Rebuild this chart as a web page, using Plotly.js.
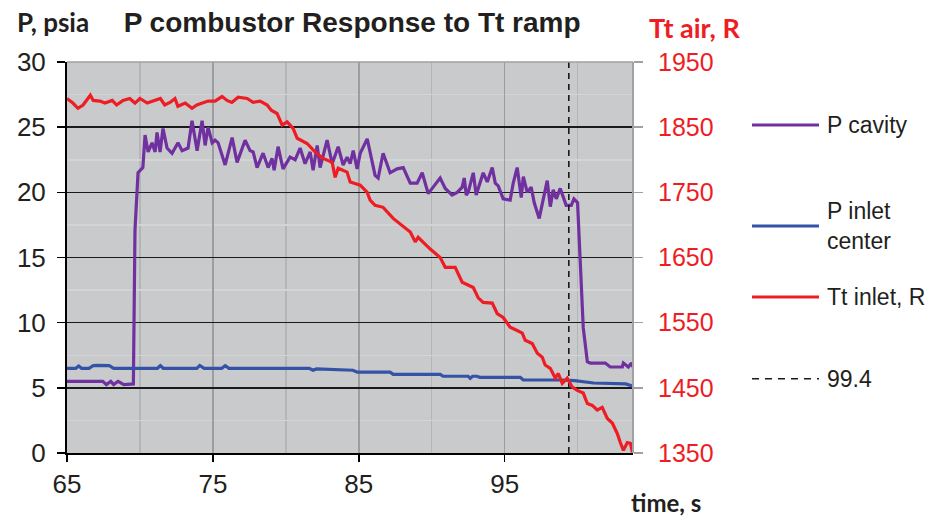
<!DOCTYPE html>
<html><head><meta charset="utf-8">
<script src="https://cdn.plot.ly/plotly-3.0.1.min.js"></script>
<style>html,body{margin:0;padding:0;background:#fff;} #chart{width:939px;height:518px;}</style>
</head><body><div id="chart"></div>
<script>
// P cavity (psia)
const cavityTime = [65.0,67.45,67.7,68.0,68.2,68.5,68.9,69.4,69.55,69.66,69.87,70.2,70.35,70.56,70.83,71.04,71.17,71.38,71.58,71.86,72.2,72.61,72.89,73.3,73.57,73.92,74.26,74.47,74.67,74.95,75.15,75.36,75.84,76.32,76.66,77.21,77.55,77.76,78.03,78.44,78.79,79.06,79.2,79.47,79.81,80.29,80.64,80.98,81.32,81.67,81.87,82.15,82.35,82.83,83.18,83.59,83.93,84.2,84.41,84.62,84.89,85.1,85.58,86.12,86.33,86.67,87.15,87.63,88.05,88.53,89.0,89.35,89.76,90.1,90.58,90.93,91.4,91.75,92.09,92.23,92.37,92.5,92.85,93.05,93.33,93.53,93.81,94.15,94.36,94.56,94.9,95.38,95.59,95.86,96.14,96.28,96.55,96.82,97.03,97.37,97.92,98.13,98.33,98.54,98.81,99.22,99.57,99.75,100.0,100.19,100.39,100.67,100.87,101.9,102.24,103.07,103.14,103.48,103.7,103.8];
const cavityP = [5.5,5.5,5.25,5.5,5.25,5.5,5.25,5.25,5.3,17.1,21.5,21.9,24.4,23.1,23.8,23.1,24.6,23.1,24.9,23.4,23.0,23.8,23.2,23.4,25.5,23.2,25.5,23.6,25.0,23.8,24.0,23.8,22.1,24.2,22.3,24.0,23.2,23.1,21.9,23.0,21.9,22.6,21.7,23.5,21.8,22.7,22.5,23.4,22.2,23.1,21.7,23.6,21.9,24.0,22.2,23.5,22.1,22.7,22.2,23.2,21.8,23.0,24.1,21.3,21.1,23.0,21.5,21.8,21.9,20.7,20.7,21.5,19.9,20.4,21.1,20.3,19.8,20.0,20.4,21.1,19.8,20.0,21.5,19.8,20.9,21.5,20.8,21.9,20.7,20.5,19.5,19.4,20.7,21.9,19.6,21.2,20.0,20.4,19.2,18.0,20.9,18.9,20.2,19.5,20.3,19.0,19.0,19.5,19.2,14.2,9.6,7.0,6.9,6.9,6.6,6.6,6.9,6.6,6.9,6.6];

// P inlet center (psia)
const inletTime = [65.0,65.6,65.8,66.0,66.5,66.8,67.1,67.6,67.9,68.2,71.2,71.4,71.6,73.9,74.1,74.4,75.6,75.85,76.1,81.6,81.87,82.1,84.6,84.9,87.15,87.36,90.58,90.79,92.5,92.64,92.8,93.1,93.3,96.07,96.28,98.8,99.8,101.1,103.3,103.8];
const inletP = [6.5,6.5,6.68,6.5,6.5,6.7,6.72,6.72,6.7,6.5,6.5,6.7,6.5,6.5,6.72,6.5,6.5,6.7,6.5,6.5,6.35,6.45,6.35,6.2,6.2,6.04,6.04,5.89,5.89,5.73,5.89,5.89,5.81,5.81,5.6,5.6,5.55,5.37,5.3,5.12];

// Tt inlet (R)
const ttTime = [65.0,65.4,65.75,66.1,66.6,66.8,67.26,67.6,68.1,68.4,68.84,69.3,69.66,70.0,70.5,70.9,71.4,71.7,72.06,72.4,72.6,73.1,73.57,73.9,74.3,74.67,75.15,75.63,75.97,76.3,76.73,77.35,77.76,78.24,78.72,79.0,79.4,79.75,80.09,80.5,80.78,81.46,82.0,82.56,83.18,83.38,83.59,84.2,84.41,85.1,85.58,85.78,86.12,86.67,87.36,88.53,88.87,89.07,89.9,90.58,90.93,91.61,92.09,92.43,92.85,93.19,93.53,94.15,94.49,94.9,95.38,95.86,96.21,96.41,96.89,97.24,97.58,97.78,98.13,98.47,98.68,98.95,99.29,99.64,99.98,100.39,100.67,101.01,101.35,101.69,102.04,102.38,102.72,102.93,103.14,103.41,103.62,103.76];
const ttR = [1894,1887,1879,1884,1899,1891,1890,1887,1891,1884,1891,1894,1887,1894,1887,1890,1894,1884,1888,1894,1882,1887,1879,1884,1887,1890,1890,1897,1891,1888,1896,1894,1888,1890,1884,1876,1871,1853,1858,1848,1833,1825,1812,1802,1796,1773,1787,1781,1766,1761,1750,1738,1730,1727,1710,1689,1674,1681,1663,1650,1635,1635,1612,1608,1604,1588,1581,1580,1564,1558,1543,1538,1534,1523,1518,1503,1497,1485,1480,1465,1472,1457,1465,1451,1446,1442,1426,1423,1416,1420,1403,1396,1380,1366,1354,1366,1365,1351];

// marker time
const markerTime = 99.4;
const markerRange = [0, 30];

const legendNames = ['P cavity', 'P inlet<br>center', 'Tt inlet, R', '99.4'];
const colors = {cavity:'#7030A0', inlet:'#3553A6', tt:'#EE1D24', marker:'#1A1A1A'};

const traces = [
  {x: cavityTime, y: cavityP, type:'scatter', mode:'lines', name: legendNames[0], line:{color:colors.cavity, width:3.2}},
  {x: inletTime, y: inletP, type:'scatter', mode:'lines', name: legendNames[1], line:{color:colors.inlet, width:3.2}},
  {x: [markerTime, markerTime], y: markerRange, type:'scatter', mode:'lines', name: legendNames[3], line:{color:colors.marker, width:1.6, dash:'6px,5px'}},
  {x: ttTime, y: ttR, type:'scatter', mode:'lines', name: legendNames[2], yaxis:'y2', line:{color:colors.tt, width:3.2}}
];

const FONT = 'Liberation Sans, Arial, sans-serif';
const BOLD = 'Lato, Liberation Sans, sans-serif';
const txt = '#231F20';

// legend drawn as annotations + shapes (paper coordinates)
const lx0 = 1.2102, lx1 = 1.3286, ltx = 1.340;
const legY = [0.8389, 0.5806, 0.399, 0.190];
const legColors = [colors.cavity, colors.inlet, colors.tt, colors.marker];
const legTexts = [legendNames[0], legendNames[1], legendNames[2], legendNames[3]];

const shapes = [
  {type:'line', xref:'paper', yref:'paper', x0:0, x1:1, y0:1, y1:1, line:{color:'#A0A1A3', width:1.5}, layer:'above'},
  {type:'line', xref:'paper', yref:'paper', x0:1, x1:1, y0:0, y1:1, line:{color:'#A0A1A3', width:2}, layer:'above'}
];
const annotations = [
  {text:'<b>P, psia</b>', xref:'paper', yref:'paper', x:-0.0247, y:1.102, xanchor:'center', yanchor:'middle', showarrow:false, font:{family:BOLD, size:26, color:txt}},
  {text:'<b>Tt air, R</b>', xref:'paper', yref:'paper', x:1.1095, y:1.087, xanchor:'center', yanchor:'middle', showarrow:false, font:{family:BOLD, size:27, color:colors.tt}},
  {text:'<b>time, s</b>', xref:'paper', yref:'paper', x:1.058, y:-0.127, xanchor:'center', yanchor:'middle', showarrow:false, font:{family:BOLD, size:24, color:txt}}
];
for (let i = 0; i < 4; i++) {
  shapes.push({type:'line', xref:'paper', yref:'paper', x0:lx0, x1:lx1, y0:legY[i], y1:legY[i],
    line:{color:legColors[i], width: i===3 ? 1.6 : 3.2, dash: i===3 ? '7px,6px' : 'solid'}});
  annotations.push({text:legTexts[i], xref:'paper', yref:'paper', x:ltx, y:legY[i], xanchor:'left', yanchor:'middle', align:'left', showarrow:false, font:{family:FONT, size:23, color:txt}});
}

const layout = {
  width:939, height:518,
  margin:{l:67, r:306, t:62, b:65},
  paper_bgcolor:'#FFFFFF', plot_bgcolor:'#C9CACC',
  showlegend:false,
  title:{text:'<b>P combustor Response to Tt ramp</b>', xref:'container', yref:'container', x:0.375, y:0.9575, xanchor:'center', yanchor:'middle', font:{family:FONT, size:28, color:txt}},
  xaxis:{range:[65,103.8], tick0:65, dtick:10, ticks:'outside', ticklen:7, tickwidth:1.5, tickcolor:'#000',
    showline:true, linecolor:'#000', linewidth:2, zeroline:false,
    showgrid:true, gridcolor:'#9C9DA0', gridwidth:1.5,
    minor:{tick0:65, dtick:5, showgrid:true, gridcolor:'#B4B5B8', gridwidth:1.5, ticks:''},
    tickfont:{family:FONT, size:26, color:txt}},
  yaxis:{range:[0,30], tick0:0, dtick:5, ticks:'outside', ticklen:8, tickwidth:1.5, tickcolor:'#000',
    showline:true, linecolor:'#000', linewidth:2, zeroline:false, ticklabelstandoff:6,
    showgrid:true, gridcolor:'#1A1A1A', gridwidth:1.5,
    minor:{dtick:2.5, showgrid:true, gridcolor:'#D3D4D6', gridwidth:1.5, ticks:''},
    tickfont:{family:FONT, size:26, color:txt}},
  yaxis2:{range:[1350,1950], tick0:1350, dtick:100, overlaying:'y', side:'right', showgrid:false, zeroline:false, showline:false,
    ticks:'outside', ticklen:9, tickwidth:1.5, tickcolor:'#A0A1A3', ticklabelstandoff:10,
    tickfont:{family:FONT, size:25, color:colors.tt}},
  shapes: shapes,
  annotations: annotations
};

Plotly.newPlot('chart', traces, layout, {displayModeBar:false, staticPlot:true});
</script>
</body></html>
